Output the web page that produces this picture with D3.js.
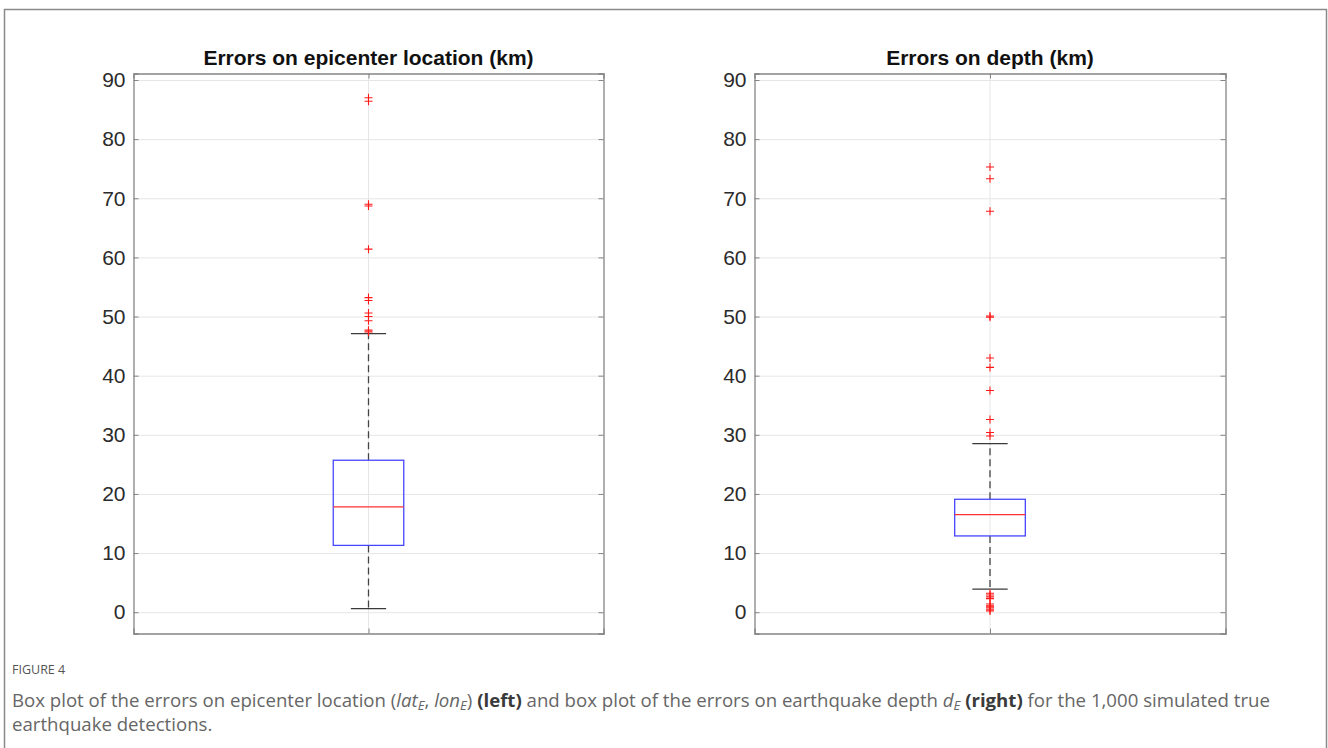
<!DOCTYPE html>
<html>
<head>
<meta charset="utf-8">
<script src="https://cdn.jsdelivr.net/npm/d3@7"></script>
<style>
  body { margin: 0; background: #fff; }
  svg { display: block; }
</style>
</head>
<body>
<script>
// panel titles
const titles = ['Errors on epicenter location (km)', 'Errors on depth (km)'];

// box statistics: [whiskerLow, q1, median, q3, whiskerHigh]
const epicenterStats = [0.6, 11.3, 17.8, 25.7, 47.1];
const depthStats = [3.9, 12.9, 16.5, 19.1, 28.5];

// outliers
const epicenterOutliers = [87.0, 86.4, 69.0, 68.7, 61.4, 53.2, 52.7, 50.6, 50.0, 49.3, 47.7, 47.4];
const depthOutliers = [75.3, 73.3, 67.8, 50.1, 49.9, 43.0, 41.4, 37.5, 32.6, 30.4, 29.8,
  3.2, 2.9, 2.6, 2.3, 1.4, 1.1, 0.9, 0.7, 0.4, 0.2];

const yTicks = [0, 10, 20, 30, 40, 50, 60, 70, 80, 90];

const W = 1328, H = 748;
const svg = d3.select('body').append('svg')
  .attr('width', W).attr('height', H);

// outer figure frame
svg.append('path')
  .attr('d', `M4.5,${H + 5}V9.5H1326.5V${H + 5}`)
  .attr('fill', 'none')
  .attr('stroke', '#8a8a8a')
  .attr('stroke-width', 1.5);

const plotTop = 73.5, plotBottom = 633.5;
const y = d3.scaleLinear().domain([-3.6, 91.1]).range([plotBottom, plotTop]);

const panels = [
  { left: 133.5, right: 603.5, title: titles[0], stats: epicenterStats, outliers: epicenterOutliers },
  { left: 754.5, right: 1225.5, title: titles[1], stats: depthStats, outliers: depthOutliers }
];

const axisColor = '#858585';
const gridColor = '#e6e6e6';

panels.forEach(p => {
  const x = d3.scaleLinear().domain([0.5, 1.5]).range([p.left, p.right]);
  const g = svg.append('g');
  const w = p.right - p.left;

  // horizontal grid
  g.append('g')
    .attr('transform', `translate(${p.left},0)`)
    .call(d3.axisLeft(y).tickValues(yTicks).tickSize(-w).tickFormat(''))
    .call(a => a.select('.domain').remove())
    .call(a => a.selectAll('line').attr('stroke', gridColor));

  // vertical grid at the box position
  g.append('line')
    .attr('x1', x(1)).attr('x2', x(1))
    .attr('y1', plotTop).attr('y2', plotBottom)
    .attr('stroke', gridColor);

  // box plot
  const [wl, q1, med, q3, wh] = p.stats;
  const bw = 0.075, cw = 0.0375;

  g.append('line')
    .attr('x1', x(1)).attr('x2', x(1))
    .attr('y1', y(q3)).attr('y2', y(wh))
    .attr('stroke', '#444').attr('stroke-width', 1.3)
    .attr('stroke-dasharray', '7,4');
  g.append('line')
    .attr('x1', x(1)).attr('x2', x(1))
    .attr('y1', y(q1)).attr('y2', y(wl))
    .attr('stroke', '#444').attr('stroke-width', 1.3)
    .attr('stroke-dasharray', '7,4');

  [wl, wh].forEach(v => {
    g.append('line')
      .attr('x1', x(1 - cw)).attr('x2', x(1 + cw))
      .attr('y1', y(v)).attr('y2', y(v))
      .attr('stroke', '#3a3a3a').attr('stroke-width', 1.3);
  });

  g.append('rect')
    .attr('x', x(1 - bw)).attr('width', x(1 + bw) - x(1 - bw))
    .attr('y', y(q3)).attr('height', y(q1) - y(q3))
    .attr('fill', 'none')
    .attr('stroke', '#4646ff').attr('stroke-width', 1.3);

  g.append('line')
    .attr('x1', x(1 - bw)).attr('x2', x(1 + bw))
    .attr('y1', y(med)).attr('y2', y(med))
    .attr('stroke', '#ff3030').attr('stroke-width', 1.2);

  // outliers as red plus markers
  g.selectAll('.out')
    .data(p.outliers)
    .enter()
    .append('path')
    .attr('class', 'out')
    .attr('d', d => `M${x(1) - 4},${y(d)}h8M${x(1)},${y(d) - 4}v8`)
    .attr('stroke', '#ff1a1a')
    .attr('stroke-width', 1.1)
    .attr('fill', 'none');

  // axes
  g.append('g')
    .attr('transform', `translate(${p.left},0)`)
    .call(d3.axisLeft(y).tickValues(yTicks).tickSize(-5).tickPadding(8).tickFormat(d3.format('d')))
    .call(a => a.select('.domain').attr('stroke', axisColor).attr('stroke-width', 1.3))
    .call(a => a.selectAll('line').attr('stroke', axisColor))
    .call(a => a.selectAll('text')
      .attr('fill', '#2b2b2b')
      .attr('font-family', 'Liberation Sans, Arial, sans-serif')
      .attr('font-size', '21px'));

  g.append('g')
    .attr('transform', `translate(${p.right},0)`)
    .call(d3.axisRight(y).tickValues(yTicks).tickSize(-5).tickFormat(''))
    .call(a => a.select('.domain').attr('stroke', axisColor).attr('stroke-width', 1.3))
    .call(a => a.selectAll('line').attr('stroke', axisColor));

  g.append('g')
    .attr('transform', `translate(0,${plotBottom})`)
    .call(d3.axisBottom(x).tickValues([1]).tickSize(-5).tickFormat(''))
    .call(a => a.select('.domain').attr('stroke', axisColor).attr('stroke-width', 1.3))
    .call(a => a.selectAll('line').attr('stroke', axisColor));

  g.append('g')
    .attr('transform', `translate(0,${plotTop})`)
    .call(d3.axisTop(x).tickValues([1]).tickSize(-5).tickFormat(''))
    .call(a => a.select('.domain').attr('stroke', axisColor).attr('stroke-width', 1.3))
    .call(a => a.selectAll('line').attr('stroke', axisColor));

  // title
  g.append('text')
    .attr('x', x(1)).attr('y', 65)
    .attr('text-anchor', 'middle')
    .attr('font-family', 'Liberation Sans, Arial, sans-serif')
    .attr('font-weight', 'bold')
    .attr('font-size', '21px')
    .attr('fill', '#111')
    .text(p.title);
});

// caption
const capFont = 'Open Sans, Noto Sans, sans-serif';
svg.append('text')
  .attr('x', 12).attr('y', 674)
  .attr('font-family', capFont)
  .attr('font-size', '12.5px')
  .attr('fill', '#555')
  .text('FIGURE 4');

const line1 = svg.append('text')
  .attr('x', 12).attr('y', 707)
  .attr('font-family', capFont)
  .attr('font-size', '16px')
  .attr('fill', '#666');

function seg(t, text, opts = {}) {
  const s = t.append('tspan').text(text);
  if (opts.italic) s.attr('font-style', 'italic');
  if (opts.bold) s.attr('font-weight', 'bold').attr('fill', '#3a3a3a');
  if (opts.sub) s.attr('baseline-shift', '-25%').attr('font-size', '0.7em');
  return s;
}

seg(line1, 'Box plot of the errors on epicenter location (');
seg(line1, 'lat', { italic: true });
seg(line1, 'E', { italic: true, sub: true });
seg(line1, ', ');
seg(line1, 'lon', { italic: true });
seg(line1, 'E', { italic: true, sub: true });
seg(line1, ') ');
seg(line1, '(left)', { bold: true });
seg(line1, ' and box plot of the errors on earthquake depth ');
seg(line1, 'd', { italic: true });
seg(line1, 'E', { italic: true, sub: true });
seg(line1, ' ');
seg(line1, '(right)', { bold: true });
seg(line1, ' for the 1,000 simulated true');

const line2 = svg.append('text')
  .attr('x', 12).attr('y', 731)
  .attr('font-family', capFont)
  .attr('font-size', '16px')
  .attr('fill', '#666')
  .text('earthquake detections.');

// fit caption width to the reference line length
const len = line1.node().getComputedTextLength();
const fs = 16 * 1259 / len;
line1.attr('font-size', fs + 'px');
line2.attr('font-size', fs + 'px');
</script>
</body>
</html>
